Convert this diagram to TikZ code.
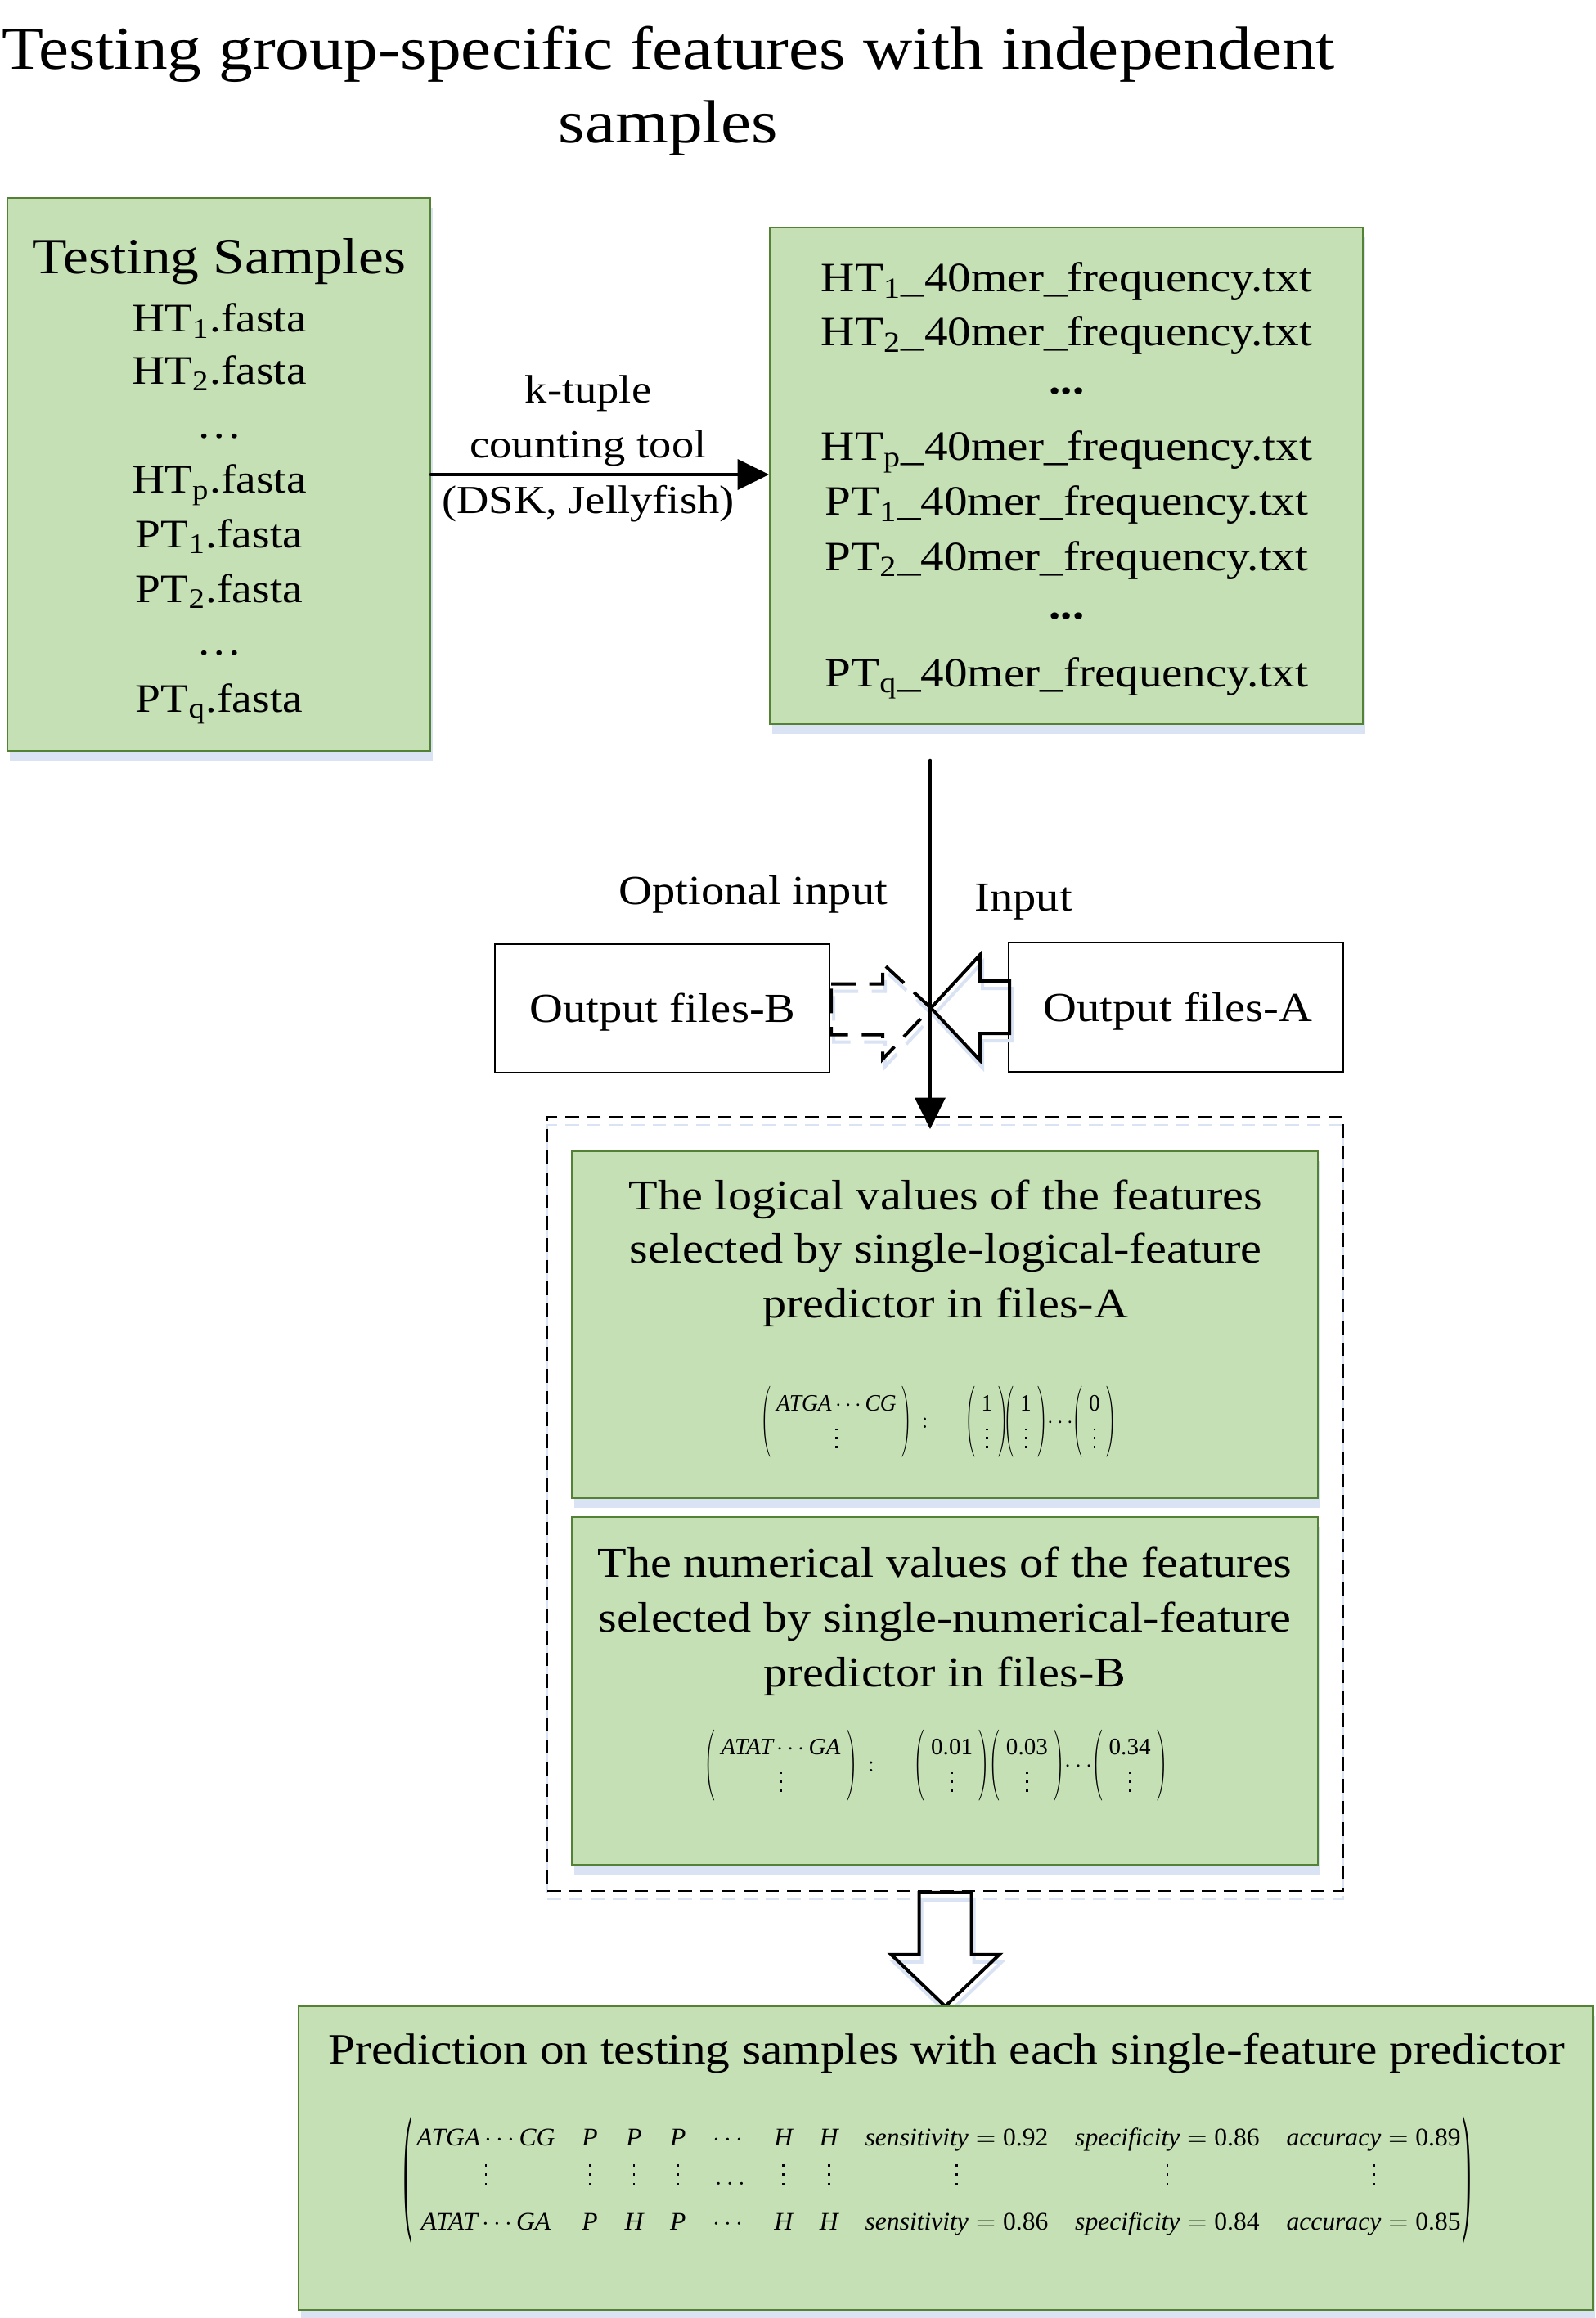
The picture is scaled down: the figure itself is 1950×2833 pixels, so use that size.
\documentclass[tikz,border=0pt]{standalone}
\usepackage{amsmath}
\usepackage{fontspec}
\setmainfont{Liberation Serif}[FakeStretch=1.12]
\newfontfamily\matfont{Liberation Serif}
\usetikzlibrary{arrows.meta,calc,fit,backgrounds}

\definecolor{gfill}{RGB}{197,224,180}
\definecolor{gborder}{RGB}{84,130,53}
\definecolor{shadowblue}{RGB}{218,227,243}

% font sizes
\newcommand\ftitle{\fontsize{22.35pt}{26pt}\selectfont}
\newcommand\fsamp{\fontsize{18.6pt}{22pt}\selectfont}
\newcommand\fone{\fontsize{14.85pt}{18pt}\selectfont}
\newcommand\ftwo{\fontsize{15.3pt}{18pt}\selectfont}
\newcommand\flab{\fontsize{14.6pt}{17pt}\selectfont}
\newcommand\fout{\fontsize{15.15pt}{18pt}\selectfont}
\newcommand\fpanel{\fontsize{15.6pt}{19pt}\selectfont}
\newcommand\fpred{\fontsize{15.9pt}{19pt}\selectfont}
\newcommand\fmat{\matfont\fontsize{10pt}{12pt}\selectfont}

% vertical dots made of small squares
\newcommand\vdts{\mathord{\vbox{\hbox{\rule{0.9pt}{0.9pt}}\vskip2.8pt\hbox{\rule{0.9pt}{0.9pt}}\vskip2.8pt\hbox{\rule{0.9pt}{0.9pt}}}}}
% narrow parentheses around a two-row column
\newcommand\twostrut{\vphantom{\begin{array}{c}X\\ \vdts\end{array}}}
\newcommand\lpar{\scalebox{0.55}[1]{$\left(\twostrut\right.$}}
\newcommand\rpar{\scalebox{0.55}[1]{$\left.\twostrut\right)$}}
\newcommand\colvec[1]{\lpar\begin{array}{@{\hspace{2pt}}c@{\hspace{2pt}}}#1\\ \vdts\end{array}\rpar}
% tall thin parentheses made from one stretched glyph
\newcommand\tallpar[1]{\vcenter{\hbox{\resizebox*{3.2pt}{50pt}{#1}}}}

\tikzset{
  greenbox/.style={draw=gborder, fill=gfill, line width=0.6pt, inner sep=0pt,
    preaction={fill=shadowblue, transform canvas={shift={(0.9pt,-3.6pt)}}}},
  plainbox/.style={draw=black, line width=0.6pt, inner sep=0pt},
  dashbox/.style={draw=black, line width=0.5pt, dash pattern=on 5pt off 3pt, inner sep=0pt,
    preaction={draw=shadowblue, dash pattern=on 5pt off 3pt, transform canvas={shift={(0pt,-3pt)}}}},
  txt/.style={anchor=base, inner sep=0pt},
  arrowline/.style={line width=1.4pt, line cap=round, -{Triangle[length=11.5pt,width=11pt]}},
  blocksolid/.style={draw=black, line width=1.2pt, line join=miter,
    preaction={draw=shadowblue, line width=1.2pt, transform canvas={shift={(0.9pt,-2.7pt)}}}},
  blockdash/.style={draw=black, line width=1.2pt, dash pattern=on 9pt off 5pt,
    preaction={draw=shadowblue, line width=1.2pt, dash pattern=on 9pt off 5pt, transform canvas={shift={(0.9pt,-2.7pt)}}}},
}

\begin{document}
\begin{tikzpicture}[x=0.3pt,y=-0.3pt]
\fill[white] (0,0) rectangle (1950,2833);
\useasboundingbox (0,0) rectangle (1950,2833);

% heading
\node[txt, font=\ftitle] (title1) at (817,85) {Testing group-specific features with independent};
\node[txt, font=\ftitle] (title2) at (817,175) {samples};

% input samples
\node[greenbox, fit={(9,242) (526,918)}] (box1) {};
\node[txt, font=\fsamp] (s0) at (268,335) {Testing Samples};
\node[txt, font=\fone] (s1) at (268,406) {HT\textsubscript{1}.fasta};
\node[txt, font=\fone] (s2) at (268,470) {HT\textsubscript{2}.fasta};
\node[txt, font=\fone] (s3) at (268,536) {\ldots};
\node[txt, font=\fone] (s4) at (268,603) {HT\textsubscript{p}.fasta};
\node[txt, font=\fone] (s5) at (268,669) {PT\textsubscript{1}.fasta};
\node[txt, font=\fone] (s6) at (268,736) {PT\textsubscript{2}.fasta};
\node[txt, font=\fone] (s7) at (268,800) {\ldots};
\node[txt, font=\fone] (s8) at (268,870) {PT\textsubscript{q}.fasta};

% k-mer frequency files
\node[greenbox, fit={(941,278) (1666,885)}] (box2) {};
\node[txt, font=\ftwo] (f1) at (1304,357) {HT\textsubscript{1}\_40mer\_frequency.txt};
\node[txt, font=\ftwo] (f2) at (1304,423) {HT\textsubscript{2}\_40mer\_frequency.txt};
\node[txt, font=\ftwo] (f3) at (1304,482) {\textbf{...}};
\node[txt, font=\ftwo] (f4) at (1304,563) {HT\textsubscript{p}\_40mer\_frequency.txt};
\node[txt, font=\ftwo] (f5) at (1304,630) {PT\textsubscript{1}\_40mer\_frequency.txt};
\node[txt, font=\ftwo] (f6) at (1304,697) {PT\textsubscript{2}\_40mer\_frequency.txt};
\node[txt, font=\ftwo] (f7) at (1304,756) {\textbf{...}};
\node[txt, font=\ftwo] (f8) at (1304,839) {PT\textsubscript{q}\_40mer\_frequency.txt};

% counting step
\draw[arrowline] (box1.east) -- (box1.east -| box2.west);
\node[txt, font=\flab] (k1) at (719,493) {k-tuple};
\node[txt, font=\flab] (k2) at (719,560) {counting tool};
\node[txt, font=\flab] (k3) at (719,628) {(DSK, Jellyfish)};

% output files
\node[plainbox, fit={(605,1154) (1014,1311)}] (boxB) {};
\node[plainbox, fit={(1233,1152) (1642,1310)}] (boxA) {};
\node[txt, font=\fout] (tB) at (810,1249) {Output files-B};
\node[txt, font=\fout] (tA) at (1440,1248) {Output files-A};
\node[txt, font=\fout] (lopt) at (921,1105) {Optional input};
\node[txt, font=\fout] (linp) at (1251,1113) {Input};

\coordinate (xtip) at (1138,1232);
\draw[blocksolid] ($(boxA.west)+(2,-32)$) -- ($(boxA.west)+(-34,-32)$) -- ($(boxA.west)+(-34,-64)$)
  -- (xtip) -- ($(boxA.west)+(-34,65)$) -- ($(boxA.west)+(-34,32)$) -- ($(boxA.west)+(2,32)$) -- cycle;
\draw[blockdash] ($(boxB.east)+(1,-30)$) -- ($(boxB.east)+(64,-30)$) -- ($(boxB.east)+(64,-55)$)
  -- (xtip) -- ($(boxB.east)+(64,62)$) -- ($(boxB.east)+(64,32)$) -- ($(boxB.east)+(1,32)$) -- cycle;

% selected features
\node[dashbox, fit={(669,1365) (1642,2311)}] (cont) {};
\coordinate (vtop) at (1137,930);
\coordinate (vtip) at (1137,1380);
\draw[arrowline] (vtop) -- (vtip);

\node[greenbox, fit={(699,1407) (1611,1831)}] (box3) {};
\node[txt, font=\fpanel] (a1) at (1156,1478) {The logical values of the features};
\node[txt, font=\fpanel] (a2) at (1156,1543) {selected by single-logical-feature};
\node[txt, font=\fpanel] (a3) at (1156,1610) {predictor in files-A};
\node[inner sep=0pt, font=\fmat] (matA) at (1147,1738) {\resizebox*{130.2pt}{27pt}{%
  \renewcommand\arraystretch{1.3}$
  \colvec{\textit{ATGA}\cdots\textit{CG}}\,:\hspace{14pt}
  \colvec{\textup{1}}\!\colvec{\textup{1}}\!\cdots\!\colvec{\textup{0}}$}};

\node[greenbox, fit={(699,1854) (1611,2279)}] (box4) {};
\node[txt, font=\fpanel] (n1) at (1155,1927) {The numerical values of the features};
\node[txt, font=\fpanel] (n2) at (1155,1994) {selected by single-numerical-feature};
\node[txt, font=\fpanel] (n3) at (1155,2061) {predictor in files-B};
\node[inner sep=0pt, font=\fmat] (matB) at (1144,2158) {\resizebox*{169.8pt}{27pt}{%
  \renewcommand\arraystretch{1.3}$
  \colvec{\textit{ATAT}\cdots\textit{GA}}\,:\hspace{14pt}
  \colvec{\textup{0.01}}\colvec{\textup{0.03}}\!\cdots\!\colvec{\textup{0.34}}$}};

% prediction
\draw[blocksolid] ($(cont.south)+(-32,1)$) -- ($(cont.south)+(32,1)$) -- ($(cont.south)+(32,77)$)
  -- ($(cont.south)+(66,77)$) -- (cont.south |- 0,2452) -- ($(cont.south)+(-66,77)$)
  -- ($(cont.south)+(-32,77)$) -- cycle;
\node[greenbox, fit={(365,2452) (1947,2823)}] (box5) {};
\node[txt, font=\fpred] (p0) at (1157,2522) {Prediction on testing samples with each single-feature predictor};
\node[inner sep=0pt, font=\fmat] (matC) at (1146,2664) {\resizebox*{391.8pt}{46.5pt}{%
  \setlength\arraycolsep{5.2pt}\renewcommand\arraystretch{1.3}$
  \tallpar{(}\begin{array}{@{\hspace{2pt}}ccccccc|ccc@{\hspace{1pt}}}
  \textit{ATGA}\cdots\textit{CG} & \textit{P} & \textit{P} & \textit{P} & \cdots & \textit{H} & \textit{H} &
  \textit{sensitivity}=\textup{0.92} & \textit{specificity}=\textup{0.86} & \textit{accuracy}=\textup{0.89}\\
  \vdts & \vdts & \vdts & \vdts & \ldots & \vdts & \vdts & \vdts & \vdts & \vdts\\[2pt]
  \textit{ATAT}\cdots\textit{GA} & \textit{P} & \textit{H} & \textit{P} & \cdots & \textit{H} & \textit{H} &
  \textit{sensitivity}=\textup{0.86} & \textit{specificity}=\textup{0.84} & \textit{accuracy}=\textup{0.85}
  \end{array}\tallpar{)}$}};
\end{tikzpicture}
\end{document}
